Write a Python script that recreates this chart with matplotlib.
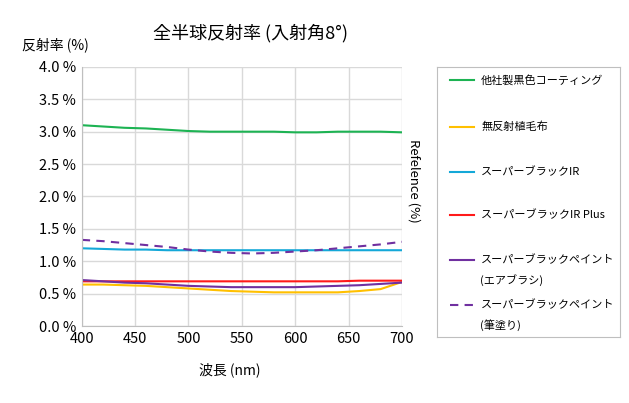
import matplotlib
matplotlib.use("Agg")
from matplotlib import pyplot as plt
import numpy as np

plt.rcParams['font.family'] = ['Noto Sans CJK JP', 'DejaVu Sans']

wl = [400, 420, 440, 460, 480, 500, 520, 540, 560, 580, 600, 620, 640, 660, 680, 700]

other_coating = [3.10, 3.08, 3.06, 3.05, 3.03, 3.01, 3.00, 3.00, 3.00, 3.00, 2.99, 2.99, 3.00, 3.00, 3.00, 2.99]
velvet = [0.64, 0.64, 0.63, 0.62, 0.60, 0.58, 0.56, 0.54, 0.53, 0.52, 0.52, 0.52, 0.52, 0.54, 0.57, 0.68]
sb_ir = [1.20, 1.19, 1.18, 1.18, 1.17, 1.17, 1.17, 1.17, 1.17, 1.17, 1.17, 1.17, 1.17, 1.17, 1.17, 1.17]
sb_ir_plus = [0.69, 0.69, 0.69, 0.69, 0.69, 0.69, 0.69, 0.69, 0.69, 0.69, 0.69, 0.69, 0.69, 0.70, 0.70, 0.70]
paint_air = [0.71, 0.69, 0.67, 0.66, 0.64, 0.62, 0.61, 0.60, 0.60, 0.60, 0.60, 0.61, 0.62, 0.63, 0.65, 0.67]
paint_brush = [1.33, 1.31, 1.28, 1.25, 1.22, 1.18, 1.15, 1.13, 1.12, 1.13, 1.15, 1.17, 1.20, 1.23, 1.26, 1.30]

labels = ["他社製黒色コーティング", "無反射植毛布", "スーパーブラックIR", "スーパーブラックIR Plus",
          "スーパーブラックペイント\n(エアブラシ)", "スーパーブラックペイント\n(筆塗り)"]
series = [other_coating, velvet, sb_ir, sb_ir_plus, paint_air, paint_brush]
colors = ["#1db353", "#ffc000", "#14a8d8", "#ff1a1a", "#7030a0", "#7030a0"]
styles = ["-", "-", "-", "-", "-", (0, (4, 3))]

fig = plt.figure(figsize=(6.29, 4.03), dpi=100)
ax = fig.add_axes([0.130, 0.191, 0.509, 0.643])

for y, c, ls in zip(series, colors, styles):
    ax.plot(wl, y, color=c, linestyle=ls, linewidth=1.5)

ax.set_xlim(400, 700)
ax.set_ylim(0, 4.0)
ax.set_xticks([400, 450, 500, 550, 600, 650, 700])
ax.set_yticks(np.arange(0, 4.01, 0.5))
ax.set_yticklabels(["%.1f %%" % v for v in np.arange(0, 4.01, 0.5)])
ax.grid(True, color="#d9d9d9", linewidth=1)
ax.set_axisbelow(True)
for s in ["top", "right"]:
    ax.spines[s].set_visible(False)
for s in ["left", "bottom"]:
    ax.spines[s].set_color("#bfbfbf")
ax.tick_params(length=0, labelsize=10.5, pad=4)

fig.text(0.398, 0.918, "全半球反射率 (入射角8°)", fontsize=13, ha="center", va="center")
fig.text(0.035, 0.888, "反射率 (%)", fontsize=10, ha="left", va="center")
fig.text(0.366, 0.083, "波長 (nm)", fontsize=10, ha="center", va="center")
fig.text(0.658, 0.55, "Refelence (%)", fontsize=9.5, rotation=270, ha="center", va="center")

# legend box
lax = fig.add_axes([0.695, 0.164, 0.291, 0.670])
lax.set_xlim(0, 1)
lax.set_ylim(0, 1)
lax.set_xticks([])
lax.set_yticks([])
for s in lax.spines.values():
    s.set_color("#bfbfbf")
ypos = [0.952, 0.778, 0.611, 0.452, 0.285, 0.118]
for lab, c, ls, yy in zip(labels, colors, styles, ypos):
    lax.plot([0.07, 0.20], [yy, yy], color=c, linestyle=ls, linewidth=1.5)
    lines = lab.split("\n")
    lax.text(0.24, yy, lines[0], fontsize=8, va="center", ha="left")
    if len(lines) > 1:
        lax.text(0.235, yy - 0.075, lines[1], fontsize=8, va="center", ha="left")

fig.savefig("out.png", dpi=100)
